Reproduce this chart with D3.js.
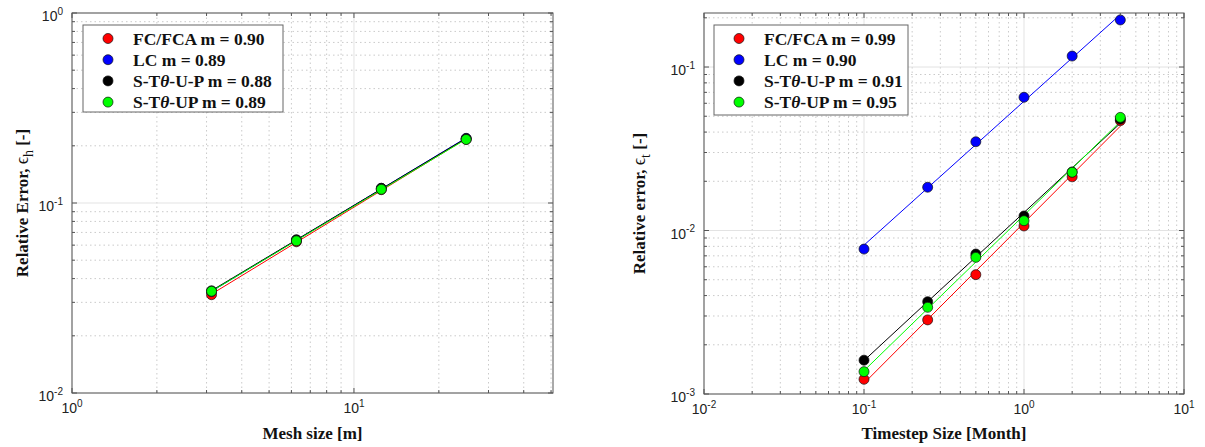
<!DOCTYPE html>
<html><head><meta charset="utf-8">
<script src="https://cdn.jsdelivr.net/npm/d3@7"></script>
<style>body{margin:0;background:#fff}svg{display:block}</style>
</head><body><svg id="c" width="1205" height="447"></svg>
<script>
// ---- data ----
const seriesNames = ["FC/FCA", "LC", "S-Tθ-U-P", "S-Tθ-UP"];
const seriesColors = ["#ff0000", "#0000ff", "#000000", "#00ff00"];

const meshSize = [3.125, 6.25, 12.5, 25];
const meshFC = [0.0329, 0.0625, 0.1175, 0.216];
const meshLC = [0.0342, 0.0638, 0.1195, 0.219];
const meshSTUsepP = [0.0345, 0.0640, 0.1195, 0.218];
const meshSTUP = [0.0343, 0.0632, 0.1180, 0.216];
const meshSlopes = ["0.90", "0.89", "0.88", "0.89"];
const meshXTickExp = [0, 1];
const meshYTickExp = [-2, -1, 0];

const timestep = [0.1, 0.25, 0.5, 1, 2, 4];
const timeFC = [0.00123, 0.00284, 0.00537, 0.01066, 0.0213, 0.047];
const timeLC = [0.0077, 0.0184, 0.0349, 0.0653, 0.1167, 0.194];
const timeSTUsepP = [0.00161, 0.00367, 0.00718, 0.01227, 0.0228, 0.0480];
const timeSTUP = [0.00137, 0.00339, 0.00685, 0.01148, 0.0227, 0.0492];
const timeSlopes = ["0.99", "0.90", "0.91", "0.95"];
const timeXTickExp = [-2, -1, 0, 1];
const timeYTickExp = [-3, -2, -1];

const svg = d3.select("#c");
svg.append("rect").attr("width", 1205).attr("height", 447).attr("fill", "#fff");

const SERIF = "'Liberation Serif','Times New Roman',serif";
const SANS = "'Liberation Sans',Arial,Helvetica,sans-serif";
const AXC = "#555";

function fitLine(xs, ys) {
  const lx = xs.map(Math.log10), ly = ys.map(Math.log10);
  const n = lx.length, mx = d3.mean(lx), my = d3.mean(ly);
  let sxy = 0, sxx = 0;
  for (let i = 0; i < n; i++) { sxy += (lx[i]-mx)*(ly[i]-my); sxx += (lx[i]-mx)**2; }
  const m = sxy / sxx, c = my - m*mx;
  return xs.map(v => [v, Math.pow(10, c + m*Math.log10(v))]);
}

function logAll(domain) {
  const out = [];
  const e0 = Math.floor(Math.log10(domain[0])), e1 = Math.ceil(Math.log10(domain[1]));
  for (let e = e0; e <= e1; e++) for (let k = 1; k <= 9; k++) {
    const v = k * Math.pow(10, e);
    if (v >= domain[0]*0.9999 && v <= domain[1]*1.0001) out.push({v, major: k === 1});
  }
  return out;
}

function addPow(sel, exp) {
  sel.append("tspan").text("10");
  sel.append("tspan").attr("dy", -6.5).attr("font-size", 10).text(String(exp));
}

function addName(sel, name) {
  const parts = name.split("θ");
  parts.forEach((p, i) => {
    if (i > 0) sel.append("tspan").attr("font-style", "italic").text("θ");
    sel.append("tspan").text(p);
  });
}

function panel(o) {
  const g = svg.append("g");
  const x = d3.scaleLog().domain(o.xd).range([o.x0, o.x1]);
  const y = d3.scaleLog().domain(o.yd).range([o.y1, o.y0]);
  const xs = logAll(o.xd), ys = logAll(o.yd);

  // minor grid
  g.selectAll(null).data(xs.filter(d => !d.major)).join("line")
    .attr("x1", d => x(d.v)).attr("x2", d => x(d.v)).attr("y1", o.y0).attr("y2", o.y1)
    .attr("stroke", "#bdbdbd").attr("stroke-width", 0.8).attr("stroke-dasharray", "1.5,3");
  g.selectAll(null).data(ys.filter(d => !d.major)).join("line")
    .attr("y1", d => y(d.v)).attr("y2", d => y(d.v)).attr("x1", o.x0).attr("x2", o.x1)
    .attr("stroke", "#bdbdbd").attr("stroke-width", 0.8).attr("stroke-dasharray", "1.5,3");
  // major grid
  g.selectAll(null).data(xs.filter(d => d.major)).join("line")
    .attr("x1", d => x(d.v)).attr("x2", d => x(d.v)).attr("y1", o.y0).attr("y2", o.y1)
    .attr("stroke", "#e3e3e3").attr("stroke-width", 1);
  g.selectAll(null).data(ys.filter(d => d.major)).join("line")
    .attr("y1", d => y(d.v)).attr("y2", d => y(d.v)).attr("x1", o.x0).attr("x2", o.x1)
    .attr("stroke", "#e3e3e3").attr("stroke-width", 1);

  // fit lines
  const line = d3.line().x(d => x(d[0])).y(d => y(d[1]));
  o.series.forEach((s, i) => {
    g.append("path").attr("d", line(fitLine(o.xv, s))).attr("fill", "none")
      .attr("stroke", seriesColors[i]).attr("stroke-width", 1);
  });
  // markers
  o.series.forEach((s, i) => {
    g.selectAll(null).data(s.map((v, j) => [o.xv[j], v])).join("circle")
      .attr("cx", d => x(d[0])).attr("cy", d => y(d[1])).attr("r", 5)
      .attr("fill", seriesColors[i]).attr("stroke", "#111").attr("stroke-width", 0.7);
  });

  // axes box
  g.append("rect").attr("x", o.x0).attr("y", o.y0).attr("width", o.x1 - o.x0).attr("height", o.y1 - o.y0)
    .attr("fill", "none").attr("stroke", AXC).attr("stroke-width", 1);
  // ticks
  const tl = d => d.major ? 5 : 3;
  g.selectAll(null).data(xs).join("line")
    .attr("x1", d => x(d.v)).attr("x2", d => x(d.v)).attr("y1", o.y1).attr("y2", d => o.y1 - tl(d))
    .attr("stroke", AXC);
  g.selectAll(null).data(xs).join("line")
    .attr("x1", d => x(d.v)).attr("x2", d => x(d.v)).attr("y1", o.y0).attr("y2", d => o.y0 + tl(d))
    .attr("stroke", AXC);
  g.selectAll(null).data(ys).join("line")
    .attr("y1", d => y(d.v)).attr("y2", d => y(d.v)).attr("x1", o.x0).attr("x2", d => o.x0 + tl(d))
    .attr("stroke", AXC);
  g.selectAll(null).data(ys).join("line")
    .attr("y1", d => y(d.v)).attr("y2", d => y(d.v)).attr("x1", o.x1).attr("x2", d => o.x1 - tl(d))
    .attr("stroke", AXC);

  // tick labels
  o.xe.forEach(e => {
    const t = g.append("text").attr("x", x(Math.pow(10, e))).attr("y", o.y1 + 20)
      .attr("text-anchor", "middle").attr("font-family", SANS).attr("font-size", 14).attr("fill", "#222");
    addPow(t, e);
  });
  o.ye.forEach(e => {
    const t = g.append("text").attr("x", o.x0 - 9).attr("y", y(Math.pow(10, e)) + 8)
      .attr("text-anchor", "end").attr("font-family", SANS).attr("font-size", 14).attr("fill", "#222");
    addPow(t, e);
  });

  // axis labels
  g.append("text").attr("x", (o.x0 + o.x1) / 2).attr("y", 439).attr("text-anchor", "middle")
    .attr("font-family", SERIF).attr("font-weight", "bold").attr("font-size", 17).attr("fill", "#111")
    .text(o.xlabel);
  const yl = g.append("text").attr("transform", `translate(${o.ylx},${(o.y0 + o.y1) / 2}) rotate(-90)`)
    .attr("text-anchor", "middle").attr("font-family", SERIF).attr("font-weight", "bold")
    .attr("font-size", 17).attr("fill", "#111");
  yl.append("tspan").text(o.ylabel + " ");
  yl.append("tspan").attr("font-weight", "normal").attr("font-size", 18).text("ϵ");
  yl.append("tspan").attr("dy", 5).attr("font-size", 14).attr("font-weight", "normal").text(o.ysub);
  yl.append("tspan").attr("dy", -5).text(" [-]");

  // legend
  const L = o.leg;
  g.append("rect").attr("x", L.x).attr("y", L.y).attr("width", L.w).attr("height", L.h)
    .attr("fill", "#fff").attr("stroke", "#666").attr("stroke-width", 1);
  seriesNames.forEach((n, i) => {
    const cy = L.y + 13.5 + i * 21.2;
    g.append("circle").attr("cx", L.x + 25).attr("cy", cy).attr("r", 5)
      .attr("fill", seriesColors[i]).attr("stroke", "#111").attr("stroke-width", 0.7);
    const t = g.append("text").attr("x", L.x + L.tx).attr("y", cy + 6)
      .attr("font-family", SERIF).attr("font-weight", "bold").attr("font-size", 17.5).attr("fill", "#111");
    addName(t, n);
    t.append("tspan").text(" m = " + o.slopes[i]);
  });
}

panel({
  xd: [1, 50.8], yd: [0.01, 1], x0: 72, x1: 553, y0: 13, y1: 393,
  xv: meshSize, series: [meshFC, meshLC, meshSTUsepP, meshSTUP], slopes: meshSlopes,
  xe: meshXTickExp, ye: meshYTickExp,
  xlabel: "Mesh size [m]", ylabel: "Relative Error,", ysub: "h", ylx: 28,
  leg: {x: 83, y: 25, w: 200, h: 87, tx: 50}
});
panel({
  xd: [0.01, 10], yd: [0.001, 0.214], x0: 704, x1: 1184, y0: 13, y1: 394,
  xv: timestep, series: [timeFC, timeLC, timeSTUsepP, timeSTUP], slopes: timeSlopes,
  xe: timeXTickExp, ye: timeYTickExp,
  xlabel: "Timestep Size [Month]", ylabel: "Relative error,", ysub: "t", ylx: 645,
  leg: {x: 714, y: 25, w: 194, h: 90, tx: 50}
});
</script></body></html>
